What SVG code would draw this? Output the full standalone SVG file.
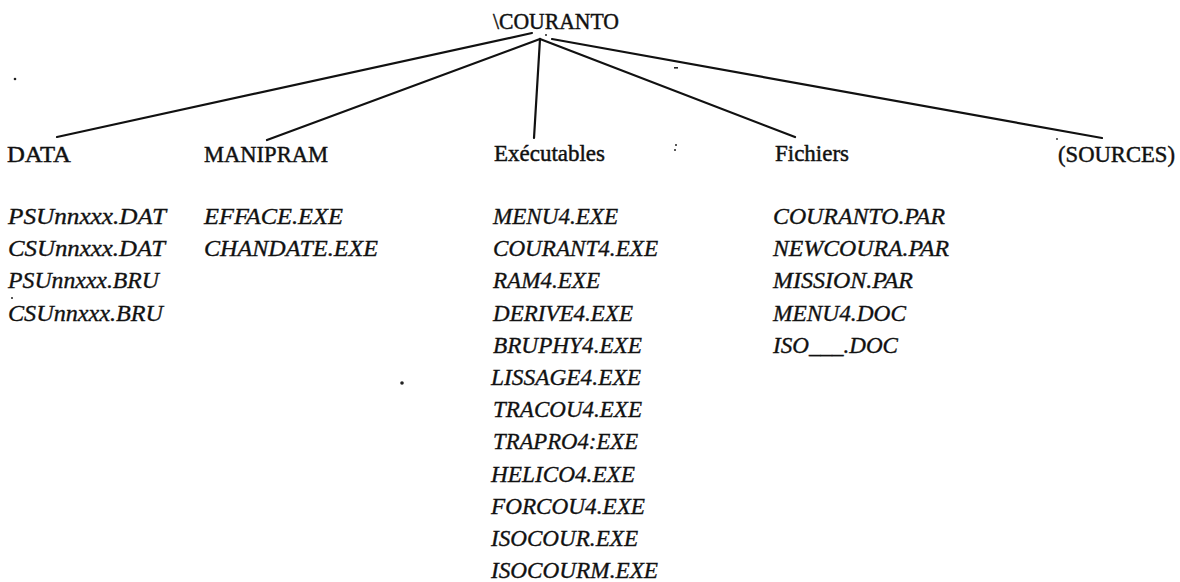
<svg xmlns="http://www.w3.org/2000/svg" width="1180" height="582" viewBox="0 0 1180 582">
<style>
.hd{font-family:"Liberation Serif","Times New Roman",serif;font-size:23px;fill:#111;stroke:#111;stroke-width:0.45;}
.it{font-family:"Liberation Serif","Times New Roman",serif;font-size:24px;font-style:italic;fill:#111;stroke:#111;stroke-width:0.35;}
.ln{stroke:#111;stroke-width:2.2;fill:none;stroke-linecap:round;}
.sp{fill:#222;}
</style>
<rect width="1180" height="582" fill="#fff"/>
<g id="connectors">
<line class="ln" x1="532" y1="33" x2="57" y2="137"/>
<line class="ln" x1="540" y1="39" x2="267" y2="140"/>
<line class="ln" x1="540" y1="39" x2="534" y2="138"/>
<line class="ln" x1="540" y1="39" x2="795" y2="137"/>
<line class="ln" x1="552" y1="39" x2="1102" y2="138"/>
</g>
<g id="root"><text class="hd" x="493" y="29" textLength="126" lengthAdjust="spacingAndGlyphs">\COURANTO</text></g>
<g id="data">
<text class="hd" x="7" y="162" textLength="64" lengthAdjust="spacingAndGlyphs">DATA</text>
<text class="it" x="8" y="224" textLength="158" lengthAdjust="spacingAndGlyphs">PSUnnxxx.DAT</text>
<text class="it" x="8" y="256.2" textLength="157" lengthAdjust="spacingAndGlyphs">CSUnnxxx.DAT</text>
<text class="it" x="8" y="288.4" textLength="151" lengthAdjust="spacingAndGlyphs">PSUnnxxx.BRU</text>
<text class="it" x="8" y="320.6" textLength="155" lengthAdjust="spacingAndGlyphs">CSUnnxxx.BRU</text>
</g>
<g id="manipram">
<text class="hd" x="204" y="162" textLength="124" lengthAdjust="spacingAndGlyphs">MANIPRAM</text>
<text class="it" x="204" y="224" textLength="139" lengthAdjust="spacingAndGlyphs">EFFACE.EXE</text>
<text class="it" x="204" y="256.2" textLength="174" lengthAdjust="spacingAndGlyphs">CHANDATE.EXE</text>
</g>
<g id="executables">
<text class="hd" x="494" y="161" textLength="111" lengthAdjust="spacingAndGlyphs">Exécutables</text>
<text class="it" x="493" y="224" textLength="125" lengthAdjust="spacingAndGlyphs">MENU4.EXE</text>
<text class="it" x="493" y="256.2" textLength="165" lengthAdjust="spacingAndGlyphs">COURANT4.EXE</text>
<text class="it" x="493" y="288.4" textLength="107" lengthAdjust="spacingAndGlyphs">RAM4.EXE</text>
<text class="it" x="493" y="320.6" textLength="140" lengthAdjust="spacingAndGlyphs">DERIVE4.EXE</text>
<text class="it" x="493" y="352.8" textLength="149" lengthAdjust="spacingAndGlyphs">BRUPHY4.EXE</text>
<text class="it" x="491" y="385" textLength="150" lengthAdjust="spacingAndGlyphs">LISSAGE4.EXE</text>
<text class="it" x="493" y="417.2" textLength="149" lengthAdjust="spacingAndGlyphs">TRACOU4.EXE</text>
<text class="it" x="493" y="449.4" textLength="145" lengthAdjust="spacingAndGlyphs">TRAPRO4:EXE</text>
<text class="it" x="491" y="481.6" textLength="144" lengthAdjust="spacingAndGlyphs">HELICO4.EXE</text>
<text class="it" x="491" y="513.8" textLength="154" lengthAdjust="spacingAndGlyphs">FORCOU4.EXE</text>
<text class="it" x="491" y="546" textLength="147" lengthAdjust="spacingAndGlyphs">ISOCOUR.EXE</text>
<text class="it" x="491" y="577.5" textLength="167" lengthAdjust="spacingAndGlyphs">ISOCOURM.EXE</text>
</g>
<g id="fichiers">
<text class="hd" x="775" y="161" textLength="74" lengthAdjust="spacingAndGlyphs">Fichiers</text>
<text class="it" x="773" y="224" textLength="172" lengthAdjust="spacingAndGlyphs">COURANTO.PAR</text>
<text class="it" x="773" y="256.2" textLength="176" lengthAdjust="spacingAndGlyphs">NEWCOURA.PAR</text>
<text class="it" x="773" y="288.4" textLength="140" lengthAdjust="spacingAndGlyphs">MISSION.PAR</text>
<text class="it" x="773" y="320.6" textLength="133" lengthAdjust="spacingAndGlyphs">MENU4.DOC</text>
<text class="it" x="773" y="352.8" textLength="125" lengthAdjust="spacingAndGlyphs">ISO___.DOC</text>
</g>
<g id="sources">
<text class="hd" x="1058" y="162" textLength="117" lengthAdjust="spacingAndGlyphs">(SOURCES)</text>
</g>
<g id="specks">
<circle class="sp" cx="15" cy="79" r="1.3"/>
<circle class="sp" cx="546" cy="35" r="1"/>
<rect class="sp" x="674" y="67" width="4" height="1.6"/>
<circle class="sp" cx="676" cy="145" r="1"/>
<circle class="sp" cx="675" cy="150" r="1"/>
<circle class="sp" cx="12" cy="298" r="1"/>
<circle class="sp" cx="402" cy="383" r="1.8"/>
<circle class="sp" cx="1057" cy="139" r="0.9"/>
</g>
</svg>
